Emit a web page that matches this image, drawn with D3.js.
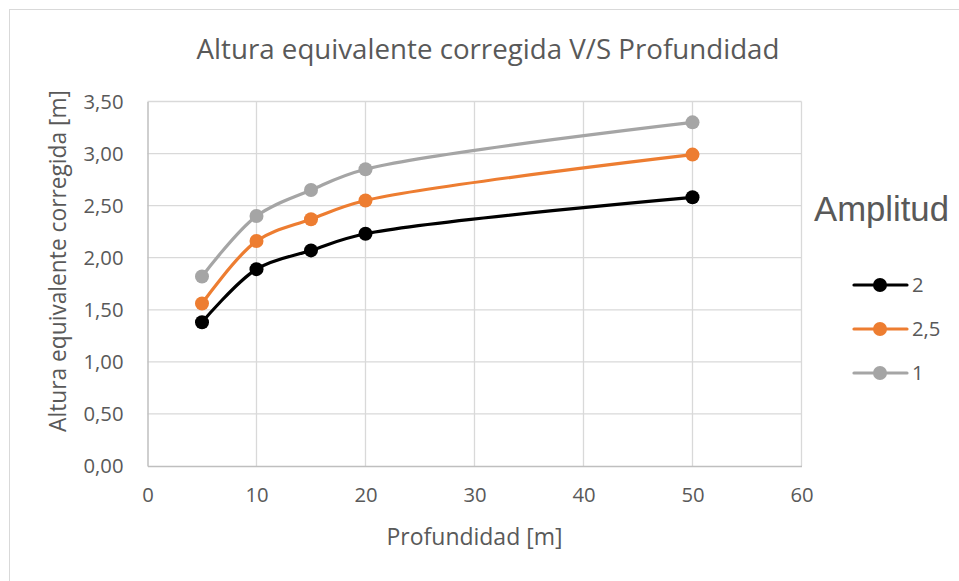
<!DOCTYPE html>
<html>
<head>
<meta charset="utf-8">
<script src="https://cdn.jsdelivr.net/npm/d3@7"></script>
<style>
  html, body { margin: 0; padding: 0; background: #fff; }
  svg { display: block; }
  text { fill: #595959; }
</style>
</head>
<body>
<script>
// Profundidad [m]
const depths = [5, 10, 15, 20, 50];
// Altura equivalente corregida [m] por amplitud
const seriesNames = ["2", "2,5", "1"];
const amp2   = [1.38, 1.89, 2.07, 2.23, 2.58];
const amp25  = [1.56, 2.16, 2.37, 2.55, 2.99];
const amp1   = [1.82, 2.40, 2.65, 2.85, 3.30];
const seriesColors = ["#000000", "#ed7d31", "#a5a5a5"];
const xTicks = [0, 10, 20, 30, 40, 50, 60];
const yTicks = [0, 0.5, 1, 1.5, 2, 2.5, 3, 3.5];
const titleText = "Altura equivalente corregida V/S Profundidad";
const xTitle = "Profundidad [m]";
const yTitle = "Altura equivalente corregida [m]";
const legendTitle = "Amplitud";

const W = 959, H = 581;
const font = "'Open Sans', 'Noto Sans', sans-serif";
const svg = d3.select("body").append("svg").attr("width", W).attr("height", H);

// chart frame
svg.append("rect").attr("x", 9.5).attr("y", 9.5).attr("width", 960).attr("height", 580)
  .attr("fill", "#fff").attr("stroke", "#d9d9d9").attr("stroke-width", 1);

const x = d3.scaleLinear().domain([0, 60]).range([147.5, 801.5]);
const y = d3.scaleLinear().domain([0, 3.5]).range([466, 101.5]);
const fmt = v => d3.format(".2f")(v).replace(".", ",");

// fit a text element's font size to a target width
function fit(sel, width) {
  const n = sel.node();
  const fs = parseFloat(sel.attr("font-size"));
  const w = n.getComputedTextLength();
  const s = fs * width / w;
  sel.attr("font-size", s.toFixed(2));
  return s;
}

// gridlines
const g = svg.append("g");
g.selectAll(".hg").data(yTicks.slice(1)).join("line")
  .attr("x1", x(0)).attr("x2", x(60)).attr("y1", d => y(d)).attr("y2", d => y(d))
  .attr("stroke", "#d9d9d9").attr("stroke-width", 1.3);
g.selectAll(".vg").data(xTicks.slice(1)).join("line")
  .attr("y1", y(0)).attr("y2", y(3.5)).attr("x1", d => x(d)).attr("x2", d => x(d))
  .attr("stroke", "#d9d9d9").attr("stroke-width", 1.3);

// axes
const xAxis = svg.append("g").attr("transform", `translate(0,${y(0)})`)
  .call(d3.axisBottom(x).tickValues(xTicks).tickSize(0).tickPadding(22).tickFormat(d3.format("d")));
const yAxis = svg.append("g").attr("transform", `translate(${x(0)},0)`)
  .call(d3.axisLeft(y).tickValues(yTicks).tickSize(0).tickPadding(24).tickFormat(fmt));
[xAxis, yAxis].forEach(a => {
  a.select(".domain").attr("stroke", "#bfbfbf").attr("stroke-width", 1.5);
  a.selectAll("text").attr("font-family", font).attr("font-size", 16.5).attr("fill", "#595959");
});
// size tick labels from the widest y label
const tickSize = fit(yAxis.select(".tick text"), 40);
xAxis.selectAll("text").attr("font-size", tickSize.toFixed(2));
yAxis.selectAll("text").attr("font-size", tickSize.toFixed(2)).attr("dy", "0.34em");

// series lines and markers
const data = [amp2, amp25, amp1];
const line = d3.line().x((d, i) => x(depths[i])).y(d => y(d)).curve(d3.curveCatmullRom.alpha(0.5));
data.slice().reverse().forEach((vals, ri) => {
  const k = data.length - 1 - ri;
  svg.append("path").datum(vals).attr("d", line)
    .attr("fill", "none").attr("stroke", seriesColors[k]).attr("stroke-width", 3.2)
    .attr("stroke-linecap", "round");
  svg.append("g").selectAll("circle").data(vals).join("circle")
    .attr("cx", (d, i) => x(depths[i])).attr("cy", d => y(d)).attr("r", 7)
    .attr("fill", seriesColors[k]);
});

// titles
const t = svg.append("text").attr("x", 488).attr("y", 59).attr("text-anchor", "middle")
  .attr("font-family", font).attr("font-size", 22).text(titleText);
fit(t, 583);
const xt = svg.append("text").attr("x", 474.5).attr("y", 545).attr("text-anchor", "middle")
  .attr("font-family", font).attr("font-size", 18).text(xTitle);
fit(xt, 176);
const yt = svg.append("text").attr("transform", "translate(66,261) rotate(-90)").attr("text-anchor", "middle")
  .attr("font-family", font).attr("font-size", 18).text(yTitle);
fit(yt, 342);

// legend
const lt = svg.append("text").attr("x", 814).attr("y", 221)
  .attr("font-family", "'Liberation Sans', Arial, sans-serif").attr("font-size", 26).text(legendTitle);
fit(lt, 135);
const legY = [285, 329, 373];
seriesNames.forEach((name, i) => {
  const lg = svg.append("g").attr("transform", `translate(0,${legY[i]})`);
  lg.append("line").attr("x1", 854).attr("x2", 907).attr("y1", 0).attr("y2", 0)
    .attr("stroke", seriesColors[i]).attr("stroke-width", 3.2).attr("stroke-linecap", "round");
  lg.append("circle").attr("cx", 880).attr("cy", 0).attr("r", 7).attr("fill", seriesColors[i]);
  lg.append("text").attr("x", 912).attr("y", 0).attr("dy", "0.34em")
    .attr("font-family", font).attr("font-size", tickSize.toFixed(2)).text(name);
});
</script>
</body>
</html>
